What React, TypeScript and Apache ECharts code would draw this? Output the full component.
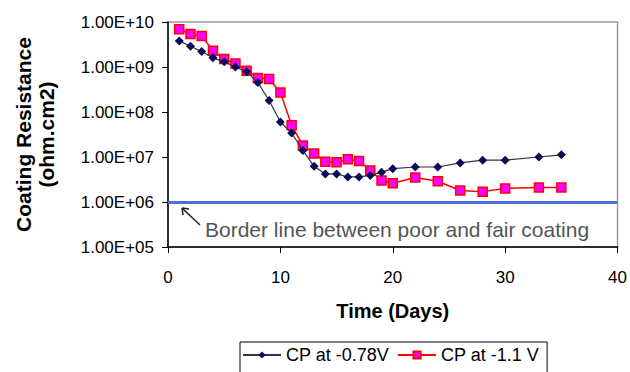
import React, { useEffect, useRef } from "react";
import * as echarts from "echarts";

const days = [1, 2, 3, 4, 5, 6, 7, 8, 9, 10, 11, 12, 13, 14, 15, 16, 17, 18, 19, 20, 22, 24, 26, 28, 30, 33, 35];
const cp078 = [3.8e9, 2.9e9, 2.2e9, 1.6e9, 1.3e9, 1.0e9, 7.8e8, 4.5e8, 1.8e8, 6.0e7, 3.4e7, 1.4e7, 6.2e6, 4.2e6, 4.2e6, 3.6e6, 3.6e6, 3.9e6, 4.6e6, 5.5e6, 6.0e6, 6.0e6, 7.4e6, 8.5e6, 8.5e6, 1.0e7, 1.12e7];
const cp11 = [6.9e9, 5.4e9, 4.9e9, 2.3e9, 1.5e9, 1.2e9, 8.3e8, 5.7e8, 5.4e8, 2.7e8, 5.1e7, 1.8e7, 1.2e7, 7.8e6, 7.6e6, 8.9e6, 8.2e6, 5.0e6, 3.0e6, 2.6e6, 3.5e6, 2.9e6, 1.8e6, 1.7e6, 2.0e6, 2.1e6, 2.1e6];
const seriesNames = ["CP at -0.78V", "CP at -1.1 V"];
const borderValue = 1e6;
const borderText = "Border line between poor and fair coating";
const xTitle = "Time (Days)";
const yTitle = "Coating Resistance\n(ohm.cm2)";

const FONT = "'Liberation Sans', Arial, sans-serif";

export default function App() {
  const ref = useRef<HTMLDivElement>(null);
  useEffect(() => {
    const chart = echarts.init(ref.current!, null, { renderer: "svg" });
    const fmt = (v: number) => {
      const e = Math.round(Math.log10(v));
      return "1.00E+" + (e < 10 ? "0" + e : String(e));
    };
    chart.setOption({
      animation: false,
      backgroundColor: "#fff",
      grid: {
        left: 168,
        right: 11,
        top: 22,
        bottom: 125,
        show: true,
        borderColor: "#9a9a9a",
        borderWidth: 1.5,
      },
      xAxis: {
        type: "value",
        min: 0,
        max: 40,
        interval: 10,
        name: xTitle,
        nameLocation: "middle",
        nameGap: 54,
        nameTextStyle: { fontFamily: FONT, fontSize: 20, fontWeight: "bold", color: "#000" },
        axisLine: { lineStyle: { color: "#000", width: 1.5 } },
        axisTick: { show: true, length: 6, lineStyle: { color: "#000" } },
        axisLabel: { fontFamily: FONT, fontSize: 17, color: "#000", margin: 22 },
        splitLine: { show: false },
      },
      yAxis: {
        type: "log",
        logBase: 10,
        min: 1e5,
        max: 1e10,
        name: yTitle,
        nameLocation: "middle",
        nameGap: 110,
        nameTextStyle: { fontFamily: FONT, fontSize: 21, fontWeight: "bold", color: "#000", lineHeight: 23 },
        axisLine: { show: true, lineStyle: { color: "#000", width: 1.5 } },
        axisTick: { show: true, length: 6, lineStyle: { color: "#000" } },
        axisLabel: { fontFamily: FONT, fontSize: 17, color: "#000", margin: 14, formatter: fmt },
        splitLine: { show: false },
        minorTick: { show: false },
      },
      legend: {
        left: 240,
        top: 342,
        data: seriesNames,
        borderColor: "#000",
        borderWidth: 1,
        borderRadius: 0,
        padding: [4, 8, 20, 2],
        itemWidth: 38,
        itemHeight: 9,
        itemGap: 8,
        textStyle: { fontFamily: FONT, fontSize: 18, color: "#000" },
      },
      series: [
        {
          name: seriesNames[0],
          type: "line",
          data: days.map((d, i) => [d, cp078[i]]),
          symbol: "diamond",
          symbolSize: 9,
          lineStyle: { color: "#333344", width: 1.2 },
          itemStyle: { color: "#0b0b5c" },
          z: 3,
          markLine: {
            silent: true,
            symbol: "none",
            label: { show: false },
            lineStyle: { color: "#4a6fe3", width: 3, type: "solid" },
            data: [{ yAxis: borderValue }],
          },
        },
        {
          name: seriesNames[1],
          type: "line",
          data: days.map((d, i) => [d, cp11[i]]),
          symbol: "rect",
          symbolSize: 9,
          lineStyle: { color: "#ff0000", width: 1.5 },
          itemStyle: { color: "#ff00ff", borderColor: "#ff0000", borderWidth: 1.5 },
          z: 2,
        },
      ],
      graphic: [
        {
          type: "text",
          left: 205,
          top: 219,
          style: { text: borderText, fontFamily: FONT, fontSize: 21, fill: "#555" },
        },
        { type: "line", shape: { x1: 183, y1: 209, x2: 200, y2: 225 }, style: { stroke: "#222", lineWidth: 1.5 } },
        { type: "line", shape: { x1: 182, y1: 208, x2: 189, y2: 209 }, style: { stroke: "#222", lineWidth: 1.5 } },
        { type: "line", shape: { x1: 182, y1: 208, x2: 183, y2: 215 }, style: { stroke: "#222", lineWidth: 1.5 } },
      ],
    });
    return () => chart.dispose();
  }, []);
  return <div ref={ref} style={{ position: "fixed", left: 0, top: 0, width: 630, height: 372 }} />;
}
